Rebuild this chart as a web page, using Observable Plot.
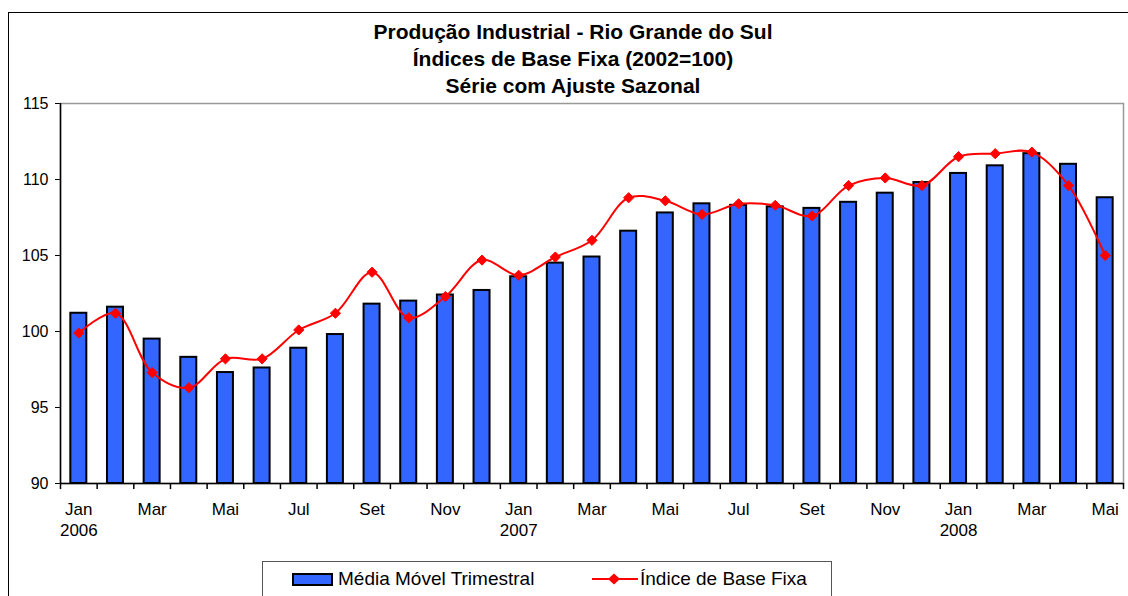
<!DOCTYPE html>
<html>
<head>
<meta charset="utf-8">
<script src="https://cdn.jsdelivr.net/npm/d3@7"></script>
<script src="https://cdn.jsdelivr.net/npm/@observablehq/plot@0.6"></script>
<style>
  html, body { margin: 0; padding: 0; background: #fff; }
  #wrap { position: relative; width: 1128px; height: 596px; overflow: hidden; font-family: "Liberation Sans", Arial, sans-serif; }
  #border { position: absolute; left: 8px; top: 12px; width: 1200px; height: 700px; border-left: 1.5px solid #000; border-top: 1.5px solid #000; pointer-events: none; }
  #title { position: absolute; left: 8px; width: 1130px; top: 18px; text-align: center; font-weight: bold; font-size: 21px; line-height: 27px; color: #000; }
  #chart { position: absolute; left: 0; top: 0; }
  #legend { position: absolute; left: 262px; top: 561px; width: 568px; height: 60px; border: 1px solid #555; background: #fff; font-size: 19px; color: #000; }
  .sw { position: absolute; }
  .lt { position: absolute; top: 7px; line-height: 20px; white-space: nowrap; }
</style>
</head>
<body>
<div id="wrap">
  <div id="chart"></div>
  <div id="title">Produção Industrial - Rio Grande do Sul<br>Índices de Base Fixa (2002=100)<br>Série com Ajuste Sazonal</div>
  <div id="legend">
    <div class="sw" style="left:29px;top:11px;width:37px;height:9px;background:#3366FF;border:2px solid #000;"></div>
    <div class="lt" style="left:75px;">Média Móvel Trimestral</div>
    <svg class="sw" style="left:329px;top:7px;" width="46" height="20">
      <line x1="0" y1="10" x2="46" y2="10" stroke="#FF0000" stroke-width="2"></line>
      <path d="M22,4.5L28,10L22,15.5L16,10Z" fill="#FF0000"></path>
    </svg>
    <div class="lt" style="left:377px;">Índice de Base Fixa</div>
  </div>
  <div id="border"></div>
</div>
<script>
const meses = ["Jan","Fev","Mar","Abr","Mai","Jun","Jul","Ago","Set","Out","Nov","Dez",
               "Jan","Fev","Mar","Abr","Mai","Jun","Jul","Ago","Set","Out","Nov","Dez",
               "Jan","Fev","Mar","Abr","Mai"];
const anos = [2006,2006,2006,2006,2006,2006,2006,2006,2006,2006,2006,2006,
              2007,2007,2007,2007,2007,2007,2007,2007,2007,2007,2007,2007,
              2008,2008,2008,2008,2008];
const mediaMovel = [101.2,101.6,99.5,98.3,97.3,97.6,98.9,99.8,101.8,102.0,102.4,102.7,
                    103.6,104.5,104.9,106.6,107.8,108.4,108.3,108.2,108.1,108.5,109.1,109.8,
                    110.4,110.9,111.7,111.0,108.8];
const indiceBase = [99.9,101.2,97.3,96.3,98.2,98.2,100.1,101.2,103.9,100.9,102.3,104.7,
                    103.7,104.9,106.0,108.8,108.6,107.7,108.4,108.3,107.6,109.6,110.1,109.6,
                    111.5,111.7,111.8,109.6,105.0];
const yTicks = [90,95,100,105,110,115];

const data = meses.map((m, i) => ({key: m + " " + anos[i], mes: m, ano: anos[i], i, media: mediaMovel[i], indice: indiceBase[i]}));
const keys = data.map(d => d.key);

const W = 1128, H = 596, mL = 60, mR = 5, mT = 103, mB = 113;
const step = (W - mL - mR) / keys.length;
const half = step / 2;
const barInset = (step - 16) / 2;

const chart = Plot.plot({
  width: W,
  height: H,
  marginLeft: mL,
  marginRight: mR,
  marginTop: mT,
  marginBottom: mB,
  style: {background: "transparent", fontFamily: "Liberation Sans, Arial, sans-serif", fontSize: "16px", color: "#000", overflow: "visible"},
  x: {domain: keys, type: "band", padding: 0, round: false, axis: null},
  y: {domain: [90, 115], ticks: yTicks, tickSize: 5, tickPadding: 7, label: null},
  marks: [
    Plot.frame({stroke: "#999", strokeWidth: 1.5}),
    Plot.barY(data, {x: "key", y1: 90, y2: "media", insetLeft: barInset, insetRight: barInset, fill: "#3366FF", stroke: "#000", strokeWidth: 2}),
    Plot.ruleY([90], {stroke: "#000", strokeWidth: 1.5}),
    Plot.ruleX([keys[0]], {y1: 90, y2: 115, dx: -half, stroke: "#000", strokeWidth: 1.5}),
    Plot.ruleX(keys, {y1: 90, y2: 89.6, dx: -half, stroke: "#000", strokeWidth: 1.5}),
    Plot.ruleX([keys[keys.length - 1]], {y1: 90, y2: 89.6, dx: half, stroke: "#000", strokeWidth: 1.5}),
    Plot.line(data, {x: "key", y: "indice", stroke: "#FF0000", strokeWidth: 2, curve: "catmull-rom"}),
    Plot.dot(data, {x: "key", y: "indice", symbol: "diamond2", r: 4.6, fill: "#FF0000", stroke: "#FF0000", strokeWidth: 1}),
    Plot.text(data.filter(d => d.i % 2 === 0), {x: "key", y: 90, text: "mes", dy: 26, fill: "#000", fontSize: 17}),
    Plot.text(data.filter(d => d.mes === "Jan"), {x: "key", y: 90, text: d => String(d.ano), dy: 47, fill: "#000", fontSize: 17})
  ]
});
document.getElementById("chart").appendChild(chart);
</script>
</body>
</html>
